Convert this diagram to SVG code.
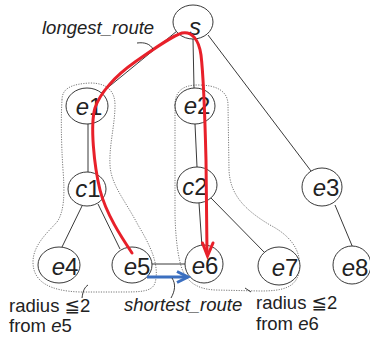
<svg xmlns="http://www.w3.org/2000/svg" width="370" height="338" viewBox="0 0 370 338">
  <style>
    .edge { stroke: #222; stroke-width: 0.9; fill: none; }
    .node ellipse { fill: #fff; stroke: #222; stroke-width: 0.9; }
    .lbl { font-family: "Liberation Sans", Arial, sans-serif; font-size: 24px; fill: #222; text-anchor: middle; }
    .it { font-style: italic; }
    .hull { fill: none; stroke: #555; stroke-width: 0.8; stroke-dasharray: 1.2 1.3; }
    .note { font-family: "Liberation Sans", Arial, "DejaVu Sans", sans-serif; font-size: 18.5px; fill: #222; }
    .leader { fill: none; stroke: #222; stroke-width: 0.9; }
    .longest { fill: none; stroke: #e8202a; stroke-width: 3; stroke-linecap: round; stroke-linejoin: miter; }
    .shortest { fill: none; stroke: #3b6fc0; stroke-width: 3; stroke-linecap: butt; }
  </style>

  <!-- radius regions -->
  <g id="regions">
    <path class="hull" d="M62,100 C62,88 72,84 90,83 C108,83 115,92 115,105 C115,125 109,145 110,165 C111,185 125,200 138,225 C150,245 160,265 155,283 C152,292 140,292 120,292 L80,292 C50,291 33,282 33,262 C33,245 48,232 57,222 C64,212 65,195 63,170 C61,140 61,115 62,100 Z"/>
    <path class="hull" d="M175,105 C175,92 182,85 198,85 C215,85 228,90 228,105 L229,170 C230,195 245,210 270,225 C295,238 302,255 299,272 C296,288 282,291 260,291 L215,290 C195,289 184,280 180,262 C177,250 175,230 175,210 L175,105 Z"/>
  </g>

  <!-- tree edges -->
  <g id="connectors">
    <line class="edge" x1="100" y1="94" x2="177" y2="31"/>
    <line class="edge" x1="193" y1="39" x2="194" y2="88"/>
    <line class="edge" x1="208" y1="35" x2="311" y2="171"/>
    <line class="edge" x1="88" y1="124" x2="88" y2="172"/>
    <line class="edge" x1="82" y1="206" x2="62" y2="247"/>
    <line class="edge" x1="98" y1="204" x2="120" y2="249"/>
    <line class="edge" x1="195" y1="124" x2="197" y2="167"/>
    <line class="edge" x1="199" y1="203" x2="202" y2="247"/>
    <line class="edge" x1="211" y1="198" x2="265" y2="253"/>
    <line class="edge" x1="335" y1="205" x2="353" y2="248"/>
    <line class="edge" x1="152" y1="264" x2="185" y2="264"/>
  </g>

  <!-- nodes -->
  <g id="node-s" class="node">
    <ellipse cx="193" cy="22" rx="20" ry="17"/>
    <text class="lbl it" x="195" y="35">s</text>
  </g>
  <g id="node-e1" class="node">
    <ellipse cx="87" cy="106" rx="21" ry="18"/>
    <text class="lbl" x="89" y="115"><tspan class="it">e</tspan>1</text>
  </g>
  <g id="node-e2" class="node">
    <ellipse cx="195" cy="106" rx="20" ry="18"/>
    <text class="lbl" x="197" y="114"><tspan class="it">e</tspan>2</text>
  </g>
  <g id="node-c1" class="node">
    <ellipse cx="87" cy="189" rx="19" ry="17"/>
    <text class="lbl" x="88" y="197"><tspan class="it">c</tspan>1</text>
  </g>
  <g id="node-c2" class="node">
    <ellipse cx="197" cy="185" rx="20" ry="18"/>
    <text class="lbl" x="195" y="195"><tspan class="it">c</tspan>2</text>
  </g>
  <g id="node-e3" class="node">
    <ellipse cx="322" cy="187" rx="20" ry="19"/>
    <text class="lbl" x="326" y="196"><tspan class="it">e</tspan>3</text>
  </g>
  <g id="node-e4" class="node">
    <ellipse cx="59" cy="265" rx="21" ry="18"/>
    <text class="lbl" x="65" y="275"><tspan class="it">e</tspan>4</text>
  </g>
  <g id="node-e5" class="node">
    <ellipse cx="132" cy="265" rx="20" ry="18"/>
    <text class="lbl" x="137" y="275"><tspan class="it">e</tspan>5</text>
  </g>
  <g id="node-e6" class="node">
    <ellipse cx="204" cy="264" rx="19" ry="19"/>
    <text class="lbl" x="205" y="274"><tspan class="it">e</tspan>6</text>
  </g>
  <g id="node-e7" class="node">
    <ellipse cx="279" cy="266" rx="21" ry="19"/>
    <text class="lbl" x="285" y="276"><tspan class="it">e</tspan>7</text>
  </g>
  <g id="node-e8" class="node">
    <ellipse cx="352" cy="265" rx="19" ry="19"/>
    <text class="lbl" x="355" y="276"><tspan class="it">e</tspan>8</text>
  </g>

  <!-- routes -->
  <g id="routes">
    <path class="longest" d="M132,253 C122,238 106,214 100,190 C94,165 90,125 95,108 C100,93 115,76 135,62 C155,48 172,36 182,33 C192,31 199,40 201,55 C204,80 205,120 206,160 L207,253"/>
    <polyline class="longest" points="202.5,243 207.5,256 213,243"/>
    <line class="shortest" x1="147" y1="277" x2="186" y2="277"/>
    <polyline class="shortest" points="177,271.5 188,277 177,282.5" stroke-linejoin="miter"/>
  </g>

  <!-- annotations -->
  <g id="annotations">
    <path class="leader" d="M137,43 C145,42 150,44 153,49"/>
    <path class="leader" d="M172,278 C176,284 175,291 171,298"/>
    <path class="leader" d="M88,285 C85,287 83,290 82,298" stroke="#2d5d6b"/>
    <path class="leader" d="M245,288 L251,292"/>
    <text class="note it" x="42" y="34">longest_route</text>
    <text class="note it" x="124" y="311">shortest_route</text>
    <text class="note" x="9" y="312">radius ≦2</text>
    <text class="note" x="9" y="332">from <tspan class="it">e</tspan>5</text>
    <text class="note" x="256" y="309">radius ≦2</text>
    <text class="note" x="256" y="330">from <tspan class="it">e</tspan>6</text>
  </g>
</svg>
